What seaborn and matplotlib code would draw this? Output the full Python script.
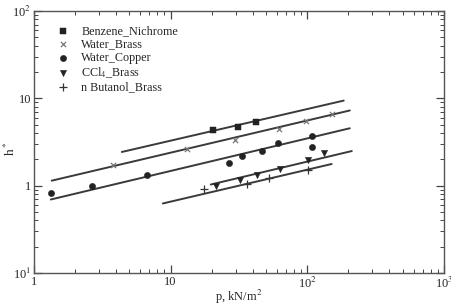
import matplotlib
matplotlib.use("Agg")
import matplotlib.pyplot as plt
import seaborn as sns
import numpy as np
import pandas as pd
from matplotlib.ticker import FixedLocator, FixedFormatter, LogLocator, NullFormatter

sns.set_style("ticks")
plt.rcParams['font.family'] = ['Liberation Serif', 'DejaVu Serif']
plt.rcParams['mathtext.fontset'] = 'stix'

# ---- data ----
benzene_p = [20.4, 31.1, 42.1]
benzene_h = [4.31, 4.66, 5.31]

wbrass_p = [3.78, 13.2, 29.5, 62.0, 97.7, 151]
wbrass_h = [1.73, 2.62, 3.32, 4.42, 5.45, 6.54]

wcopper_p = [1.33, 2.66, 6.71, 26.7, 33.2, 46.6, 60.9, 108, 108]
wcopper_h = [0.833, 1.0, 1.33, 1.82, 2.19, 2.49, 3.07, 3.68, 2.77]

ccl4_p = [21.4, 32.1, 42.8, 63.0, 101, 132]
ccl4_h = [1.0, 1.17, 1.33, 1.57, 1.98, 2.37]

butanol_p = [17.5, 36.2, 52.4, 101]
butanol_h = [0.925, 1.05, 1.23, 1.52]

# correlation lines (start / end)
line_names = ["Benzene_Nichrome", "Water_Brass", "Water_Copper", "CCl4_Brass", "n Butanol_Brass"]
line_p_start = [4.40, 1.35, 1.33, 19.7, 8.78]
line_p_end = [185, 205, 205, 212, 151]
line_h_start = [2.43, 1.14, 0.694, 1.03, 0.625]
line_h_end = [9.42, 7.26, 4.54, 2.49, 1.77]

labels = ["Benzene_Nichrome", "Water_Brass", "Water_Copper", "CCl$_4$_Brass", "n Butanol_Brass"]
x_ticks = [1, 10, 100, 1000]
x_ticklabels = ["1", "10", "10$^2$", "10$^3$"]
y_ticks = [0.1, 1, 10, 100]
y_ticklabels = ["10$^1$", "1", "10", "10$^2$"]

fig = plt.figure(figsize=(4.52, 3.06), dpi=100)
ax = fig.add_axes([0.075, 0.108, 0.907, 0.856])

line_color = "#3a3a3a"
for i in range(len(line_names)):
    df = pd.DataFrame({"p": [line_p_start[i], line_p_end[i]],
                       "h": [line_h_start[i], line_h_end[i]]})
    sns.lineplot(data=df, x="p", y="h", ax=ax, color=line_color, lw=1.4,
                 legend=False, zorder=2)

series = [
    (benzene_p, benzene_h, "s", "#222222", 18, None),
    (wbrass_p, wbrass_h, "x", "#777777", 14, 0.9),
    (wcopper_p, wcopper_h, "o", "#222222", 20, None),
    (ccl4_p, ccl4_h, "v", "#222222", 20, None),
    (butanol_p, butanol_h, "+", "#333333", 30, 0.9),
]
for (px, py, m, c, s, lw), lab in zip(series, labels):
    kw = {}
    if lw is not None:
        kw["linewidths"] = lw
    else:
        kw["edgecolor"] = c
    sns.scatterplot(x=px, y=py, marker=m, color=c, s=s, ax=ax, label=lab,
                    zorder=3, **kw)

ax.set_xscale("log")
ax.set_yscale("log")
ax.set_xlim(1, 1000)
ax.set_ylim(0.1, 100)

ax.xaxis.set_major_locator(FixedLocator(x_ticks))
ax.xaxis.set_major_formatter(FixedFormatter(x_ticklabels))
ax.yaxis.set_major_locator(FixedLocator(y_ticks))
ax.yaxis.set_major_formatter(FixedFormatter(y_ticklabels))
ax.xaxis.set_minor_locator(LogLocator(base=10, subs=np.arange(2, 10)))
ax.yaxis.set_minor_locator(LogLocator(base=10, subs=np.arange(2, 10)))
ax.xaxis.set_minor_formatter(NullFormatter())
ax.yaxis.set_minor_formatter(NullFormatter())

ax.tick_params(which="both", direction="in", top=True, right=True,
               color="#444444", labelsize=9, pad=2)
ax.tick_params(which="major", length=6, width=0.9)
ax.tick_params(which="minor", length=3, width=0.7)
for sp in ax.spines.values():
    sp.set_color("#555555")
    sp.set_linewidth(1.0)

ax.set_xlabel("p, kN/m$^2$", fontsize=9)
ax.xaxis.set_label_coords(0.5, -0.058)
ax.set_ylabel("h$^*$", fontsize=9.5)
ax.yaxis.set_label_coords(-0.038, 0.475)

leg = ax.legend(loc="upper left", bbox_to_anchor=(0.045, 0.965), frameon=False,
                fontsize=8.7, handletextpad=1.0, labelspacing=0.12,
                handlelength=1.0, borderaxespad=0)

fig.savefig("out.png", dpi=100)
